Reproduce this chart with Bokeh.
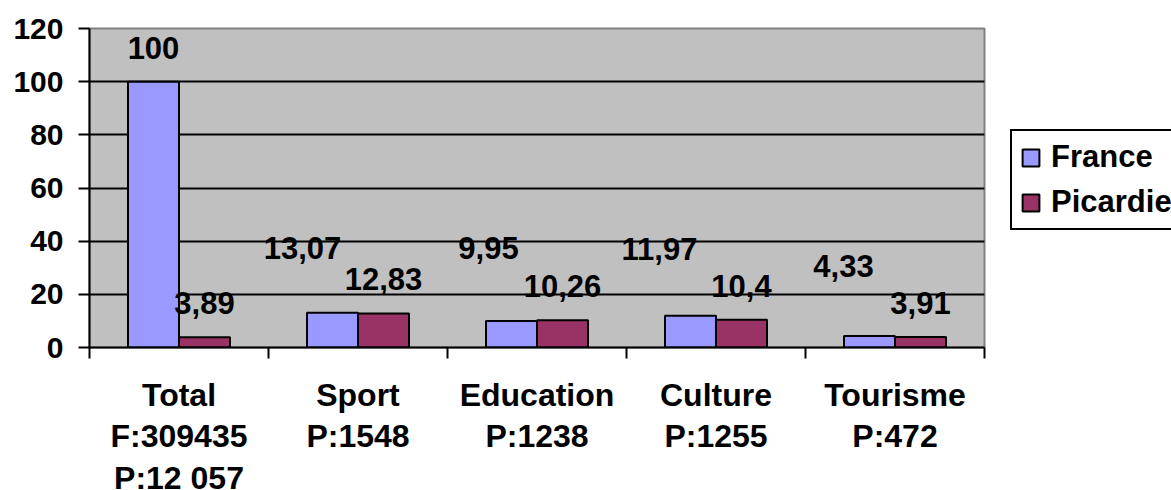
from bokeh.plotting import figure
from bokeh.models import (ColumnDataSource, Range1d, LinearAxis, FixedTicker, Grid,
                          Legend, LegendItem)
from bokeh.layouts import row, column
from bokeh.embed import file_html
from bokeh.resources import INLINE

# ---- data ----
categories = ["Total\nF:309435\nP:12 057", "Sport\nP:1548", "Education\nP:1238",
              "Culture\nP:1255", "Tourisme\nP:472"]
series = ["France", "Picardie"]
france = [100, 13.07, 9.95, 11.97, 4.33]
picardie = [3.89, 12.83, 10.26, 10.4, 3.91]
y_ticks = [0, 20, 40, 60, 80, 100, 120]

# ---- label placement (screen px, relative to bar top) ----
france_dx = [0, -30, -23, -31, -26]
france_dy = [-34, -65, -73, -67, -70]
picardie_dx = [0, 0, 0, 0, 0]
picardie_dy = [-34, -34, -34, -34, -34]

FONT = "Liberation Sans"
COL_F = "#9999FF"
COL_P = "#993366"
BAR_W = 0.285

def fmt(v):
    return f"{v:g}".replace(".", ",")

n = len(categories)
centers = [i + 0.5 for i in range(n)]
fx = [c - BAR_W / 2 for c in centers]
px = [c + BAR_W / 2 for c in centers]

TOP_H = 366
xr = Range1d(0, n)

p = figure(width=1009, height=TOP_H, output_backend="svg", toolbar_location=None,
           x_range=xr, y_range=Range1d(0, 120),
           x_axis_location=None, y_axis_location=None,
           min_border_left=89, min_border_right=25, min_border_top=28,
           min_border_bottom=TOP_H - 347)
p.background_fill_color = "#C0C0C0"
p.border_fill_color = "white"
p.outline_line_color = "#808080"
p.outline_line_width = 2
p.xgrid.visible = False
p.ygrid.visible = False

p.add_layout(Grid(dimension=1, ticker=FixedTicker(ticks=y_ticks[1:-1]),
                  grid_line_color="black", grid_line_width=2))

src_f = ColumnDataSource(dict(x=fx, top=france, label=[fmt(v) for v in france],
                              dx=france_dx, dy=france_dy))
src_p = ColumnDataSource(dict(x=px, top=picardie, label=[fmt(v) for v in picardie],
                              dx=picardie_dx, dy=picardie_dy))

p.vbar(x="x", top="top", width=BAR_W, bottom=0, source=src_f,
       fill_color=COL_F, line_color="black", line_width=2)
p.vbar(x="x", top="top", width=BAR_W, bottom=0, source=src_p,
       fill_color=COL_P, line_color="black", line_width=2)

for src in (src_f, src_p):
    p.text(x="x", y="top", text="label", x_offset="dx", y_offset="dy", source=src,
           text_align="center", text_baseline="middle",
           text_font={"value": FONT}, text_font_style="bold", text_font_size="31px",
           text_color="black")

# y axis
yax = LinearAxis(ticker=FixedTicker(ticks=y_ticks))
yax.axis_line_color = "black"
yax.axis_line_width = 2
yax.major_tick_line_color = "black"
yax.major_tick_line_width = 2
yax.major_tick_in = 0
yax.major_tick_out = 11
yax.minor_tick_line_color = None
yax.major_label_text_font = FONT
yax.major_label_text_font_style = "bold"
yax.major_label_text_font_size = "30px"
yax.major_label_text_color = "black"
yax.major_label_standoff = 15
p.add_layout(yax, "left")

# x axis: boundary ticks only
bounds = list(range(n + 1))
xax = LinearAxis(ticker=FixedTicker(ticks=bounds))
xax.axis_line_color = "black"
xax.axis_line_width = 2
xax.major_tick_line_color = "black"
xax.major_tick_line_width = 2
xax.major_tick_in = 0
xax.major_tick_out = 11
xax.minor_tick_line_color = None
xax.major_label_overrides = {b: "" for b in bounds}
xax.major_label_text_font_size = "1px"
xax.major_label_standoff = 0
p.add_layout(xax, "below")

# ---- legend panel ----
q = figure(width=1171 - 1009, height=TOP_H, output_backend="svg", toolbar_location=None,
           x_range=Range1d(0, 1), y_range=Range1d(0, 1),
           x_axis_location=None, y_axis_location=None,
           min_border_left=0, min_border_right=0, min_border_top=0, min_border_bottom=0)
q.outline_line_color = None
q.xgrid.visible = False
q.ygrid.visible = False
q.background_fill_color = "white"
q.border_fill_color = "white"
# undrawn (NaN) stand-ins carrying each series' style for the legend swatches
nan = float("nan")
d_f = q.vbar(x=[nan], top=[nan], bottom=[nan], width=0.1,
             fill_color=COL_F, line_color="black", line_width=2)
d_p = q.vbar(x=[nan], top=[nan], bottom=[nan], width=0.1,
             fill_color=COL_P, line_color="black", line_width=2)
legend = Legend(items=[LegendItem(label=series[0], renderers=[d_f]),
                       LegendItem(label=series[1], renderers=[d_p])],
                location=(1, TOP_H - 249))
legend.border_line_color = "black"
legend.border_line_alpha = 1
legend.border_line_width = 2
legend.background_fill_color = "white"
legend.background_fill_alpha = 1
legend.label_text_font = FONT
legend.label_text_font_style = "bold"
legend.label_text_font_size = "31px"
legend.label_text_color = "black"
legend.glyph_width = 21
legend.glyph_height = 21
legend.label_standoff = 10
legend.padding = 8
legend.spacing = 9
legend.margin = 0
q.add_layout(legend, "center")

# ---- category label panel ----
BOT_H = 490 - TOP_H
r = figure(width=1171, height=BOT_H, output_backend="svg", toolbar_location=None,
           x_range=xr, y_range=Range1d(BOT_H, 0),
           x_axis_location=None, y_axis_location=None,
           min_border_left=89, min_border_right=1171 - 984, min_border_top=0, min_border_bottom=0)
r.outline_line_color = None
r.xgrid.visible = False
r.ygrid.visible = False
r.background_fill_color = "white"
r.border_fill_color = "white"
r.text(x=centers, y=[376 - TOP_H] * n, text=categories,
       text_align="center", text_baseline="top", text_line_height=1.16,
       text_font={"value": FONT}, text_font_style="bold", text_font_size="32px",
       text_color="black")

layout = column(row(p, q), r)
open("out.html", "w").write(file_html(layout, INLINE))
